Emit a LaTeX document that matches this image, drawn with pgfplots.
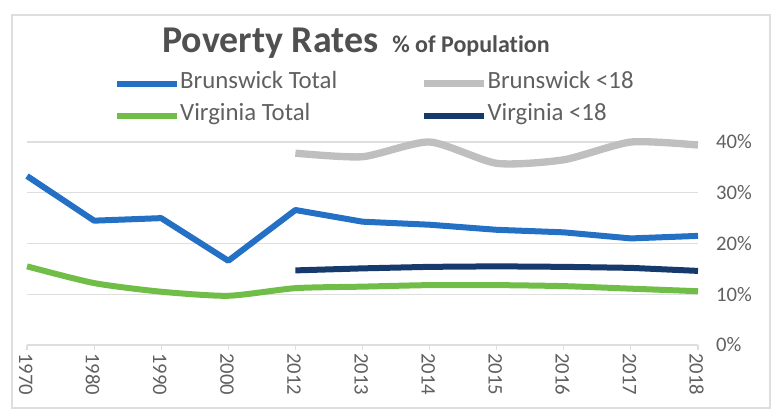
\documentclass[border=0pt]{standalone}
\usepackage{pgfplots}
\pgfplotsset{compat=1.18}
\usepackage{fontspec}
\setmainfont{Carlito}[Ligatures={NoCommon}]
\definecolor{bruntot}{RGB}{36,112,196}
\definecolor{brunkid}{RGB}{191,191,191}
\definecolor{virgtot}{RGB}{112,190,72}
\definecolor{virgkid}{RGB}{22,58,108}
\definecolor{titlegray}{RGB}{80,80,80}
\definecolor{textgray}{RGB}{96,96,96}
\definecolor{gridgray}{RGB}{222,222,222}

\begin{document}
\begin{tikzpicture}[x=0.75pt,y=0.75pt]
% px grid, origin bottom-left, picture is 779 x 412
\useasboundingbox (0,0) rectangle (779,412);
% chart frame
\draw[gridgray, line width=1pt] (12,4) rectangle (770,397);
% title
\node[anchor=base west, inner sep=0pt, text=titlegray,
  font=\fontsize{28.4}{30}\selectfont\bfseries] at (162,360) {Poverty Rates};
\node[anchor=base west, inner sep=0pt, text=titlegray,
  font=\fontsize{18}{20}\selectfont\bfseries] at (392,360) {\% of Population};

\begin{axis}[
  at={(27pt*0.75,67pt*0.75)}, anchor=south west,
  scale only axis,
  width=503.25pt, height=152.25pt,
  xmin=0, xmax=10,
  ymin=0, ymax=40,
  clip=false,
  axis x line=bottom,
  axis y line=right,
  x axis line style={-, draw=gridgray, line width=1pt},
  y axis line style={draw=none},
  xtick={0,1,...,10},
  xticklabels={1970,1980,1990,2000,2012,2013,2014,2015,2016,2017,2018},
  x tick label style={rotate=-90, anchor=west, inner sep=2pt, yshift=-1pt},
  x tick style={draw=gridgray, line width=0.8pt},
  tick align=outside,
  major tick length=4pt,
  ytick={0,10,20,30,40},
  yticklabels={0\%,10\%,20\%,30\%,40\%},
  y tick style={draw=none},
  y tick label style={anchor=west, xshift=6pt},
  ticklabel style={font=\fontsize{15.5}{18}\selectfont, text=textgray},
  ymajorgrids,
  grid style={draw=gridgray, line width=1pt},
  legend columns=2,
  legend cell align=left,
  legend style={
    at={(0.1296,1.3389)}, anchor=north west,
    draw=none, fill=none, inner sep=0pt,
    font=\fontsize{18.6}{22}\selectfont, text=textgray,
    nodes={inner sep=0pt, text height=11.5pt, text depth=4pt},
    row sep=8.5pt,
    /tikz/every odd column/.append style={column sep=0pt},
    /tikz/every even column/.append style={column sep=0pt},
  },
  legend image code/.code={
    \draw[#1] (0pt,0pt) -- (45pt,0pt);
  },
]
\addplot[bruntot, line width=4.5pt, line join=round] coordinates {
  (0,33.3) (1,24.5) (2,25.0) (3,16.6) (4,26.6) (5,24.3)
  (6,23.7) (7,22.7) (8,22.2) (9,21.0) (10,21.5)
};
\addlegendentry{\makebox[180pt][l]{Brunswick Total}}
\addplot[brunkid, line width=5.5pt, line join=round, smooth, tension=0.4] coordinates {
  (4,37.8) (5,37.1) (6,40.0) (7,35.8) (8,36.5) (9,40.0) (10,39.4)
};
\addlegendentry{Brunswick <18}
\addplot[virgtot, line width=4.5pt, line join=round, smooth, tension=0.4] coordinates {
  (0,15.5) (1,12.2) (2,10.5) (3,9.7) (4,11.2) (5,11.5)
  (6,11.8) (7,11.8) (8,11.6) (9,11.1) (10,10.6)
};
\addlegendentry{\makebox[180pt][l]{Virginia Total}}
\addplot[virgkid, line width=4.5pt, line join=round] coordinates {
  (4,14.7) (5,15.1) (6,15.4) (7,15.5) (8,15.4) (9,15.2) (10,14.6)
};
\addlegendentry{Virginia <18}
\end{axis}
\end{tikzpicture}
\end{document}
